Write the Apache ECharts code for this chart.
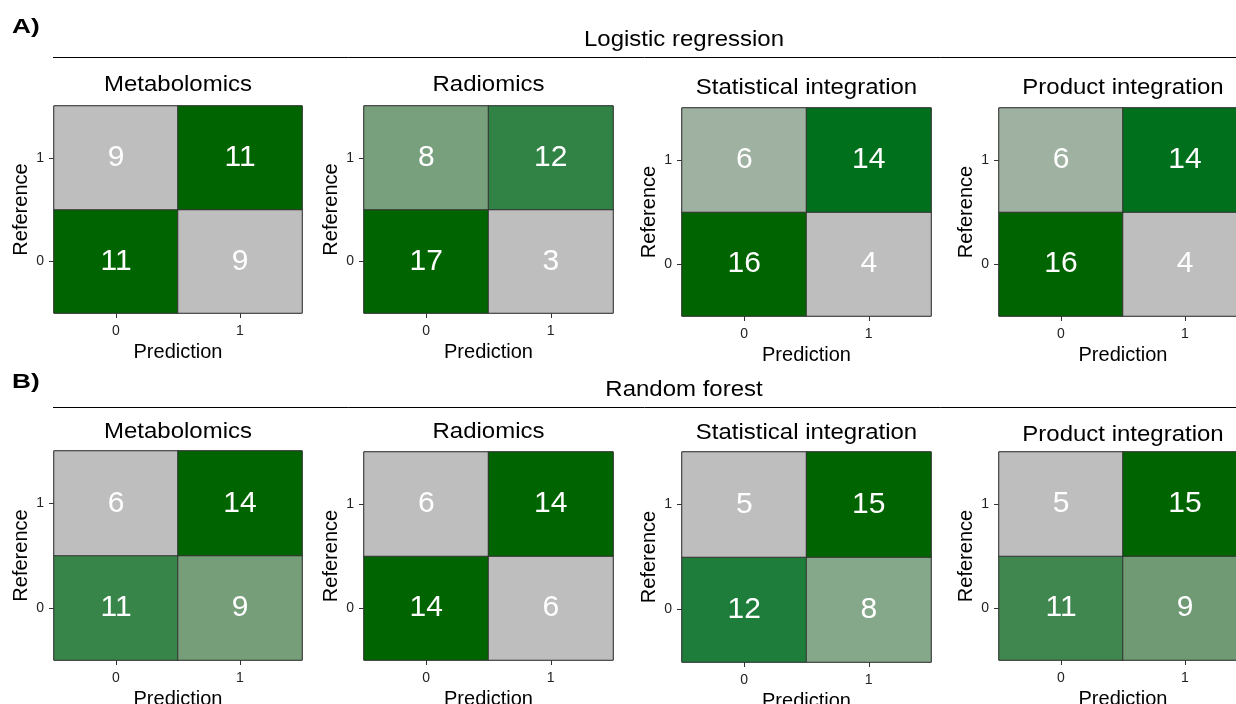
<!DOCTYPE html>
<html>
<head>
<meta charset="utf-8">
<title>Confusion matrices</title>
<script src="https://cdn.jsdelivr.net/npm/echarts@6/dist/echarts.min.js"></script>
<style>
  html, body { margin: 0; padding: 0; background: #ffffff; }
  #chart { width: 1236px; height: 704px; }
</style>
</head>
<body>
<div id="chart"></div>
<script>
// Axis categories
const predictionLabels = ['0', '1'];
const referenceLabels = ['0', '1'];

// Panel titles and section titles
const panelTitles = ['Metabolomics', 'Radiomics', 'Statistical integration', 'Product integration'];
const sectionTitles = ['Logistic regression', 'Random forest'];
const sectionTags = ['A)', 'B)'];

// Cell counts, order: (pred 0, ref 0), (pred 1, ref 0), (pred 0, ref 1), (pred 1, ref 1)
const lrMetabolomics = [11, 9, 9, 11];
const lrRadiomics = [17, 3, 8, 12];
const lrStatistical = [16, 4, 6, 14];
const lrProduct = [16, 4, 6, 14];
const rfMetabolomics = [11, 9, 6, 14];
const rfRadiomics = [14, 6, 6, 14];
const rfStatistical = [12, 8, 5, 15];
const rfProduct = [11, 9, 5, 15];

const panels = [lrMetabolomics, lrRadiomics, lrStatistical, lrProduct,
                rfMetabolomics, rfRadiomics, rfStatistical, rfProduct];

// Panel boxes in pixels: [left, top, width, height]
const boxes = [
  [54, 106, 248, 207], [364, 106, 249, 207], [682, 108, 249, 208], [999, 108, 248, 208],
  [54, 451, 248, 209], [364, 452, 249, 208], [682, 452, 249, 210], [999, 452, 248, 208]
];

// Fill ramp from grey (panel minimum) to dark green (panel maximum):
// anchor colours at relative positions, resampled into evenly spaced stops
const rampAnchors = [
  [0.000, '#bebebe'], [0.167, '#9fb1a0'], [0.300, '#86a88a'], [0.400, '#6f9a73'],
  [0.600, '#3f874e'], [0.700, '#1e7d3a'], [0.833, '#00701c'], [1.000, '#006400']
];
function hexToRgb(h) { return [1, 3, 5].map(i => parseInt(h.substr(i, 2), 16)); }
function sampleRamp(n) {
  const out = [];
  for (let i = 0; i < n; i++) {
    const t = i / (n - 1);
    let k = 0;
    while (k < rampAnchors.length - 2 && t > rampAnchors[k + 1][0]) k++;
    const [t0, c0] = rampAnchors[k], [t1, c1] = rampAnchors[k + 1];
    const f = (t - t0) / (t1 - t0);
    const a = hexToRgb(c0), b = hexToRgb(c1);
    out.push('rgb(' + a.map((v, j) => Math.round(v + (b[j] - v) * f)).join(',') + ')');
  }
  return out;
}
const ramp = sampleRamp(61);

const FONT = '"Liberation Sans", Arial, Helvetica, sans-serif';

const grid = [], xAxis = [], yAxis = [], series = [], visualMap = [];
panels.forEach((vals, i) => {
  const [l, t, w, h] = boxes[i];
  grid.push({
    left: l, top: t, width: w, height: h, show: true, borderColor: '#555', borderWidth: 1,
    containLabel: false, outerBoundsMode: 'none'
  });
  xAxis.push({
    type: 'category', gridIndex: i, data: predictionLabels,
    name: 'Prediction', nameLocation: 'middle', nameGap: 29,
    nameTextStyle: { fontFamily: FONT, fontSize: 20, color: '#000' },
    axisLine: { show: false },
    axisTick: { show: true, alignWithLabel: true, length: 5, lineStyle: { color: '#333' } },
    axisLabel: { fontFamily: FONT, fontSize: 14, color: '#222', margin: 11 },
    splitLine: { show: false }, splitArea: { show: false }
  });
  yAxis.push({
    type: 'category', gridIndex: i, data: referenceLabels,
    name: 'Reference', nameLocation: 'middle', nameGap: 23, nameRotate: 90,
    nameTextStyle: { fontFamily: FONT, fontSize: 20, color: '#000' },
    axisLine: { show: false },
    axisTick: { show: true, alignWithLabel: true, length: 5, lineStyle: { color: '#333' } },
    axisLabel: { fontFamily: FONT, fontSize: 14, color: '#222', margin: 10 },
    splitLine: { show: false }, splitArea: { show: false }
  });
  const data = [[0, 0, vals[0]], [1, 0, vals[1]], [0, 1, vals[2]], [1, 1, vals[3]]];
  series.push({
    type: 'heatmap', xAxisIndex: i, yAxisIndex: i, data: data,
    itemStyle: { borderColor: '#333', borderWidth: 1 },
    label: { show: true, formatter: p => String(p.value[2]), color: '#fff', fontFamily: FONT, fontSize: 30 },
    emphasis: { disabled: true }
  });
  visualMap.push({
    type: 'continuous', show: false, seriesIndex: i, dimension: 2,
    min: Math.min.apply(null, vals), max: Math.max.apply(null, vals),
    inRange: { color: ramp }
  });
});

// Titles, section headings and rules
const graphic = [];
const titleY = [[85, 85, 88, 88], [432, 432, 433, 435]];
boxes.forEach((b, i) => {
  const row = Math.floor(i / 4), col = i % 4;
  graphic.push({
    type: 'text', x: b[0] + b[2] / 2, y: titleY[row][col], scaleX: 1.09,
    style: { text: panelTitles[col], fontFamily: FONT, fontSize: 22, fill: '#000', textAlign: 'center', textVerticalAlign: 'middle' }
  });
});
const sectionY = [[27, 40, 57], [382, 390, 407]];
sectionY.forEach((s, r) => {
  graphic.push({ type: 'text', x: 12, y: s[0], scaleX: 1.25, style: { text: sectionTags[r], fontFamily: FONT, fontSize: 21, fontWeight: 'bold', fill: '#000', textVerticalAlign: 'middle' } });
  graphic.push({ type: 'text', x: 684, y: s[1], scaleX: 1.09, style: { text: sectionTitles[r], fontFamily: FONT, fontSize: 22, fill: '#000', textAlign: 'center', textVerticalAlign: 'middle' } });
  graphic.push({ type: 'line', shape: { x1: 53, y1: s[2] + 0.5, x2: 1236, y2: s[2] + 0.5 }, style: { stroke: '#000', lineWidth: 1 } });
});

const chart = echarts.init(document.getElementById('chart'), null, { renderer: 'canvas' });
chart.setOption({
  animation: false,
  backgroundColor: '#ffffff',
  grid, xAxis, yAxis, visualMap, series, graphic
});
</script>
</body>
</html>
